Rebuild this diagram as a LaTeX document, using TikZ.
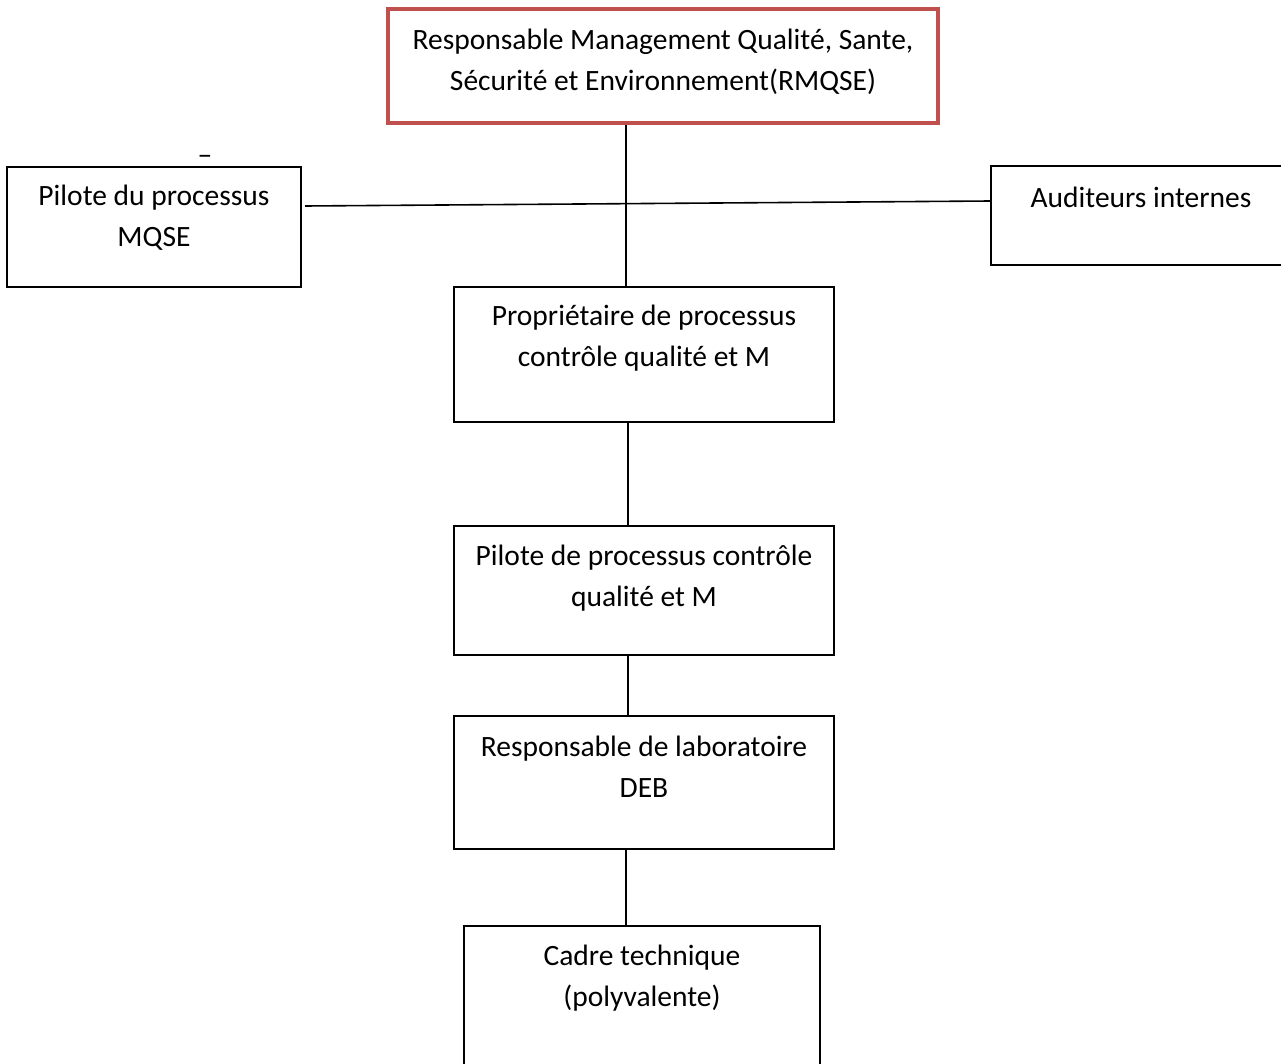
\documentclass[tikz,border=0pt]{standalone}
\usepackage{fontspec}
\setmainfont{Carlito}
\definecolor{accred}{RGB}{192,80,77}
\begin{document}
\begin{tikzpicture}[x=1pt,y=-1pt,
  box/.style={draw=black, line width=1.3pt, inner sep=0pt, fill=none},
  redbox/.style={draw=accred, line width=4pt, inner sep=0pt},
  lbl/.style={font=\fontsize{29.5}{41}\selectfont, align=center, inner sep=0pt, text=black},
  conn/.style={draw=black, line width=1.6pt}]
\useasboundingbox (0,0) rectangle (1281,1064);
\clip (0,0) rectangle (1281,1064);
% boxes
\node[redbox, minimum width=550pt, minimum height=114pt] (rm) at (663,66) {};
\node[box, minimum width=294pt, minimum height=120pt] (pil) at (154,227) {};
\node[box, minimum width=310pt, minimum height=99pt] (aud) at (1146,215.5) {};
\node[box, minimum width=380pt, minimum height=135pt] (prop) at (644,354.5) {};
\node[box, minimum width=380pt, minimum height=129pt] (pcq) at (644,590.5) {};
\node[box, minimum width=380pt, minimum height=133pt] (lab) at (644,782.5) {};
\node[box, minimum width=356pt, minimum height=160pt] (cadre) at (642,1006) {};
% labels
\node[lbl] (trm) at (663,62) {Responsable Management Qualité, Sante,\\Sécurité et Environnement(RMQSE)};
\node[lbl] (tpil) at (154,218) {Pilote du processus\\MQSE};
\node[lbl] (taud) at (1141,197) {Auditeurs internes};
\node[lbl] (tprop) at (644,338) {Propriétaire de processus\\contrôle qualité et M};
\node[lbl] (tpcq) at (644,578) {Pilote de processus contrôle\\qualité et M};
\node[lbl] (tlab) at (644,767) {Responsable de laboratoire\\DEB};
\node[lbl] (tcad) at (642,978) {Cadre technique\\(polyvalente)};
\node[lbl] (dash) at (205,160) {–};
% connectors
\coordinate (v1) at (626,0);
\coordinate (v2) at (628,0);
\coordinate (hl) at (305,206);
\coordinate (hr) at (991,201);
\draw[conn] (v1 |- rm.south) -- (v1 |- prop.north);
\draw[conn] (hl) -- (hr);
\draw[conn] (v2 |- prop.south) -- (v2 |- pcq.north);
\draw[conn] (v2 |- pcq.south) -- (v2 |- lab.north);
\draw[conn] (v1 |- lab.south) -- (v1 |- cadre.north);
\end{tikzpicture}
\end{document}
